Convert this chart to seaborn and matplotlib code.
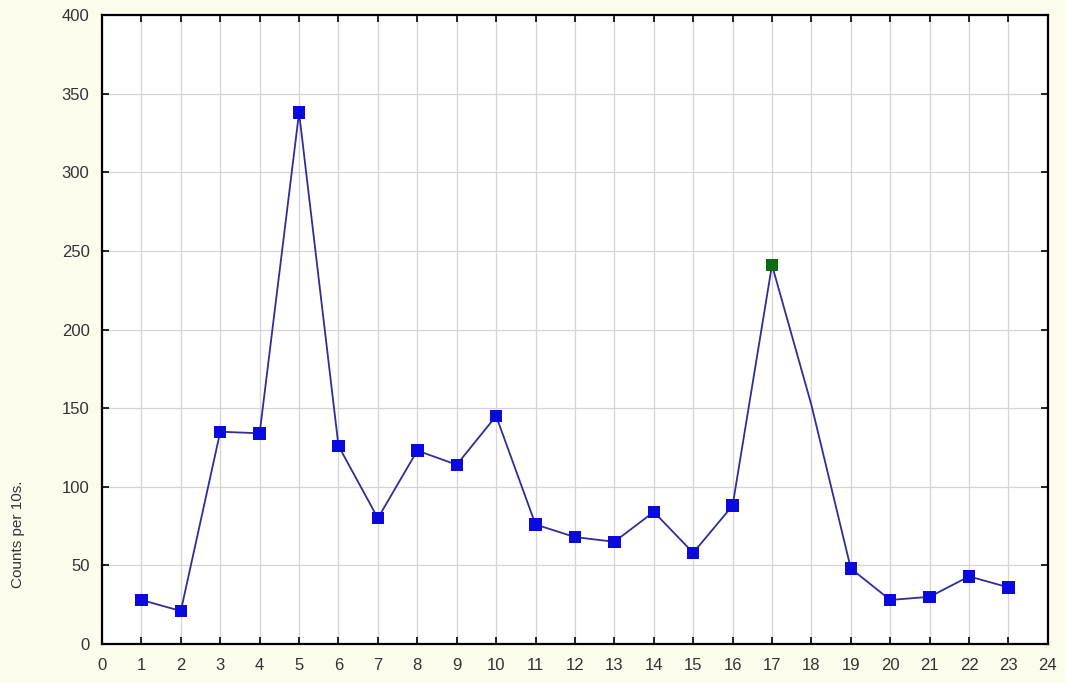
import numpy as np
import pandas as pd
import matplotlib
matplotlib.use("Agg")
import matplotlib.pyplot as plt
import seaborn as sns

# Counts per 10 s interval
intervals = list(range(1, 24))
counts = [28, 21, 135, 134, 338, 126, 80, 123, 114, 145, 76, 68, 65, 84, 58, 88,
          241, 152, 48, 28, 30, 43, 36]
# interval 18 has no marker of its own; the curve passes through it
has_marker = [True] * 17 + [False] + [True] * 5
highlight = [17]

x_ticks = list(range(0, 25))
y_ticks = list(range(0, 401, 50))

sns.set_theme(style="white")
plt.rcParams["font.family"] = ["Liberation Sans", "DejaVu Sans"]

df = pd.DataFrame({"interval": intervals, "counts": counts, "marker": has_marker})
df["group"] = np.where(df["interval"].isin(highlight), "peak", "normal")

fig = plt.figure(figsize=(10.66, 6.83), dpi=100, facecolor="#fdfbec")
ax = fig.add_axes([0.0957, 0.0571, 0.8873, 0.9209])
ax.set_facecolor("white")

sns.lineplot(data=df, x="interval", y="counts", ax=ax, color="#2e2e96",
             linewidth=1.3, zorder=3)
sns.scatterplot(data=df[df["marker"]], x="interval", y="counts", hue="group",
                palette={"normal": "#0a0ae0", "peak": "#0b6b12"}, marker="s",
                s=80, edgecolor="none", legend=False, ax=ax, zorder=4)

ax.set_xlim(0, 24)
ax.set_ylim(0, 400)
ax.set_xticks(x_ticks)
ax.set_yticks(y_ticks)
ax.grid(True, color="#d4d4d4", linewidth=0.9)
ax.set_axisbelow(True)

for side in ["left", "bottom", "top", "right"]:
    ax.spines[side].set_visible(True)
    ax.spines[side].set_color("black")
    ax.spines[side].set_linewidth(1.6)

ax.tick_params(axis="both", which="major", direction="in", length=5, width=1.2,
               color="black", top=True, right=True, bottom=True, left=True,
               labelsize=12, labelcolor="#333333")
ax.tick_params(axis="x", pad=10)
ax.tick_params(axis="y", pad=9)

ax.set_xlabel("")
ax.set_ylabel("Counts per 10s.", fontsize=11, color="#333333")
ax.yaxis.set_label_coords(-0.081, 0.175)

fig.savefig("out.png", dpi=100, facecolor=fig.get_facecolor())
